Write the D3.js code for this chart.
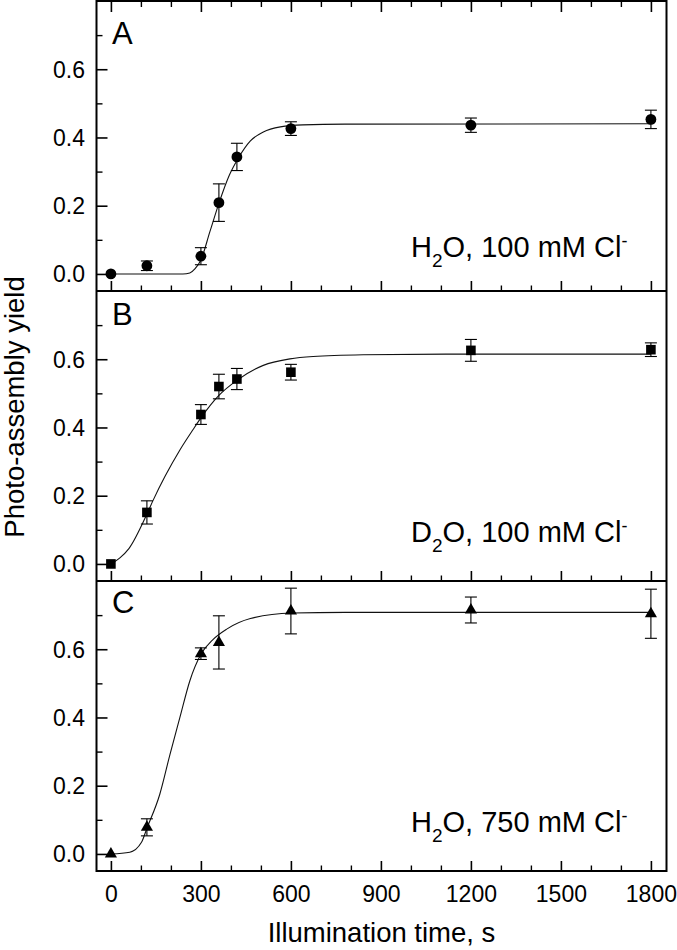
<!DOCTYPE html>
<html>
<head>
<meta charset="utf-8">
<script src="https://cdn.jsdelivr.net/npm/d3@7"></script>
<style>
  html, body { margin: 0; padding: 0; background: #fff; }
  svg { display: block; font-family: "Liberation Sans", Arial, Helvetica, sans-serif; }
</style>
</head>
<body>
<svg id="chart" width="677" height="950"></svg>
<script>
// ---------------- data ----------------
const times = [0, 120, 300, 360, 420, 600, 1200, 1800];

const yieldA = [0.000, 0.024, 0.052, 0.209, 0.343, 0.426, 0.436, 0.453];
const errA   = [0,     0.014, 0.025, 0.055, 0.040, 0.020, 0.021, 0.027];

const yieldB = [0.000, 0.151, 0.438, 0.520, 0.542, 0.562, 0.626, 0.628];
const errB   = [0,     0.034, 0.029, 0.036, 0.031, 0.023, 0.032, 0.020];

const timesC = [0, 120, 300, 360, 600, 1200, 1800];
const yieldC = [0.000, 0.078, 0.587, 0.620, 0.712, 0.715, 0.704];
const errC   = [0,     0.025, 0.017, 0.078, 0.067, 0.038, 0.072];

// fitted curves
const fitTimesA = [0, 240, 263, 280, 300, 330, 360, 395, 425, 465, 508, 565, 640, 780, 1800];
const fitA      = [0, 0.000, 0.003, 0.015, 0.041, 0.124, 0.207, 0.290, 0.340, 0.390, 0.416, 0.431, 0.437, 0.439, 0.440];

const fitTimesB = [0, 30, 60, 121, 141, 180, 230, 274, 300, 360, 420, 508, 597, 674, 841, 1119, 1800];
const fitB      = [0, 0.018, 0.045, 0.148, 0.187, 0.256, 0.334, 0.394, 0.428, 0.494, 0.538, 0.582, 0.601, 0.608, 0.613, 0.615, 0.615];

const fitTimesC = [0, 63, 102, 120, 163, 197, 230, 263, 300, 341, 386, 465, 603, 781, 1800];
const fitC      = [0, 0.005, 0.034, 0.075, 0.175, 0.292, 0.400, 0.507, 0.585, 0.629, 0.659, 0.690, 0.706, 0.708, 0.708];

const xTicksMajor = [0, 300, 600, 900, 1200, 1500, 1800];
const xTicksMinor = [100, 200, 400, 500, 700, 800, 1000, 1100, 1300, 1400, 1600, 1700];
const yTicksMajor = [0, 0.2, 0.4, 0.6];
const yTicksMinor = [0.1, 0.3, 0.5, 0.7];

const panelLetters   = ["A", "B", "C"];
const solventLetters = ["H", "D", "H"];
const conditionTexts = ["O, 100 mM Cl", "O, 100 mM Cl", "O, 750 mM Cl"];
const markerKinds    = ["circle", "square", "triangle"];

const xTitle = "Illumination time, s";
const yTitle = "Photo-assembly yield";

// ---------------- layout ----------------
const left = 96.5, right = 666.5;
const panelTops = [1, 291, 581];
const panelH = 290;
const letterBaseline = [42.5, 34, 32];
const condBaseline = [34.5, 39, 39];   // distance above panel bottom

const svg = d3.select("#chart");

const x = d3.scaleLinear().domain([-48, 1852]).range([left, right]);

const series = [
  {t: times,  y: yieldA, e: errA, ft: fitTimesA, fy: fitA},
  {t: times,  y: yieldB, e: errB, ft: fitTimesB, fy: fitB},
  {t: timesC, y: yieldC, e: errC, ft: fitTimesC, fy: fitC}
];

panelTops.forEach((top, i) => {
  const bottom = top + panelH;
  const y = d3.scaleLinear().domain([-0.05, 0.8]).range([bottom, top]);
  const g = svg.append("g");
  const s = series[i];

  // x ticks (inward) at bottom
  const xAxisB = d3.axisBottom(x).tickValues(xTicksMajor).tickSize(-10).tickFormat(i === 2 ? d3.format("d") : "");
  const gx = g.append("g").attr("transform", `translate(0,${bottom})`).call(xAxisB);
  gx.select(".domain").remove();
  gx.selectAll(".tick line").attr("stroke", "#000").attr("stroke-width", 1.6);
  gx.selectAll(".tick text").attr("font-size", 23).attr("fill", "#000").attr("dy", null).attr("y", 902 - bottom);
  const gxm = g.append("g").attr("transform", `translate(0,${bottom})`)
    .call(d3.axisBottom(x).tickValues(xTicksMinor).tickSize(-5.5).tickFormat(""));
  gxm.select(".domain").remove();
  gxm.selectAll(".tick line").attr("stroke", "#000").attr("stroke-width", 1.4);

  if (i === 0) {
    const gt = g.append("g").attr("transform", `translate(0,${top})`)
      .call(d3.axisTop(x).tickValues(xTicksMajor).tickSize(-11).tickFormat(""));
    gt.select(".domain").remove();
    gt.selectAll(".tick line").attr("stroke", "#000").attr("stroke-width", 1.6);
    const gtm = g.append("g").attr("transform", `translate(0,${top})`)
      .call(d3.axisTop(x).tickValues(xTicksMinor).tickSize(-6).tickFormat(""));
    gtm.select(".domain").remove();
    gtm.selectAll(".tick line").attr("stroke", "#000").attr("stroke-width", 1.4);
  }

  // y ticks (inward)
  const gy = g.append("g").attr("transform", `translate(${left},0)`)
    .call(d3.axisLeft(y).tickValues(yTicksMajor).tickSize(-11).tickFormat(d3.format(".1f")));
  gy.select(".domain").remove();
  gy.selectAll(".tick line").attr("stroke", "#000").attr("stroke-width", 1.6);
  gy.selectAll(".tick text").attr("font-size", 23).attr("fill", "#000")
    .attr("x", 85 - left).attr("dy", "0.34em").attr("text-anchor", "end");
  const gym = g.append("g").attr("transform", `translate(${left},0)`)
    .call(d3.axisLeft(y).tickValues(yTicksMinor).tickSize(-6).tickFormat(""));
  gym.select(".domain").remove();
  gym.selectAll(".tick line").attr("stroke", "#000").attr("stroke-width", 1.4);

  // fitted curve
  const fitPts = s.ft.map((t, k) => [t, s.fy[k]]);
  g.append("path")
    .datum(fitPts)
    .attr("fill", "none")
    .attr("stroke", "#111")
    .attr("stroke-width", 1.1)
    .attr("d", d3.line().x(d => x(d[0])).y(d => y(d[1])).curve(d3.curveMonotoneX));

  // points with error bars
  const pts = s.t.map((t, k) => ({t, v: s.y[k], e: s.e[k]}));
  const eb = g.append("g").attr("stroke", "#000").attr("stroke-width", 1.1);
  pts.filter(d => d.e > 0).forEach(d => {
    eb.append("line").attr("x1", x(d.t)).attr("x2", x(d.t)).attr("y1", y(d.v - d.e)).attr("y2", y(d.v + d.e));
    eb.append("line").attr("x1", x(d.t) - 6).attr("x2", x(d.t) + 6).attr("y1", y(d.v - d.e)).attr("y2", y(d.v - d.e));
    eb.append("line").attr("x1", x(d.t) - 6).attr("x2", x(d.t) + 6).attr("y1", y(d.v + d.e)).attr("y2", y(d.v + d.e));
  });

  const kind = markerKinds[i];
  const sym = kind === "circle" ? d3.symbolCircle : kind === "square" ? d3.symbolSquare : d3.symbolTriangle;
  const size = kind === "circle" ? Math.PI * 5.4 * 5.4 : kind === "square" ? 9.6 * 9.6 : 64;
  g.append("g").selectAll("path").data(pts).join("path")
    .attr("transform", d => `translate(${x(d.t)},${y(d.v)})`)
    .attr("d", d3.symbol().type(sym).size(size))
    .attr("fill", "#000");

  // panel letter
  g.append("text")
    .attr("x", 112)
    .attr("y", top + letterBaseline[i])
    .attr("font-size", 31)
    .attr("fill", "#000")
    .text(panelLetters[i]);

  // condition label
  const tx = g.append("text")
    .attr("x", 411)
    .attr("y", bottom - condBaseline[i])
    .attr("font-size", 29)
    .attr("fill", "#000");
  tx.append("tspan").text(solventLetters[i]);
  tx.append("tspan").attr("font-size", 19).attr("dy", 10).text("2");
  tx.append("tspan").attr("dy", -10).text(conditionTexts[i]);
  tx.append("tspan").attr("font-size", 18).attr("dy", -10).text("-");
});

// frame
svg.append("rect")
  .attr("x", left).attr("y", panelTops[0])
  .attr("width", right - left).attr("height", panelH * 3)
  .attr("fill", "none").attr("stroke", "#000").attr("stroke-width", 2);
[panelTops[1], panelTops[2]].forEach(t => {
  svg.append("line").attr("x1", left).attr("x2", right).attr("y1", t).attr("y2", t)
    .attr("stroke", "#000").attr("stroke-width", 2);
});

// axis titles
svg.append("text")
  .attr("x", (left + right) / 2)
  .attr("y", 942)
  .attr("text-anchor", "middle")
  .attr("font-size", 27.5)
  .attr("fill", "#000")
  .text(xTitle);

svg.append("text")
  .attr("transform", `translate(24,407) rotate(-90)`)
  .attr("text-anchor", "middle")
  .attr("font-size", 27.5)
  .attr("fill", "#000")
  .text(yTitle);
</script>
</body>
</html>
